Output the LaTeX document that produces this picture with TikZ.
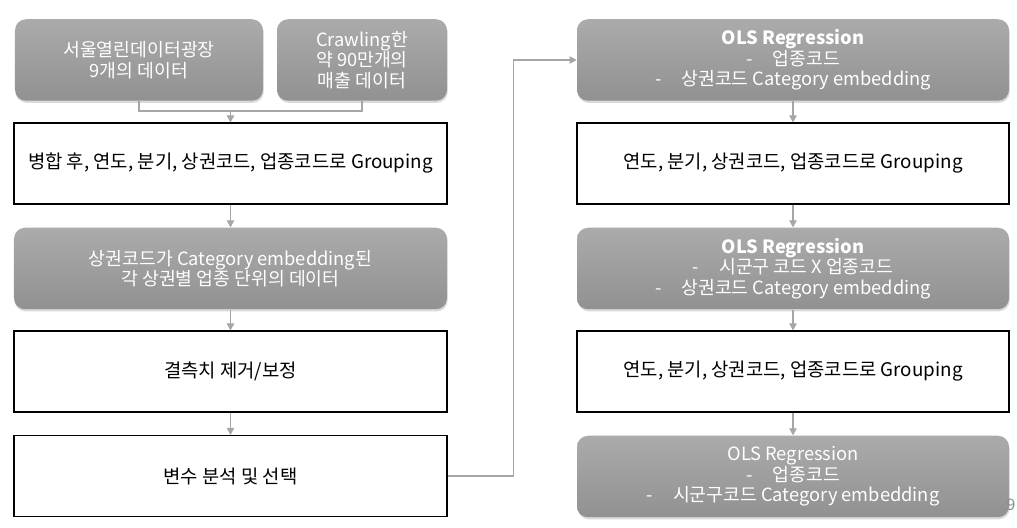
\documentclass[tikz,border=0pt]{standalone}
\usepackage{fontspec}
\setmainfont{Noto Sans CJK KR}
\usetikzlibrary{arrows.meta,shadows}

\definecolor{boxtop}{HTML}{ABABAB}
\definecolor{boxbot}{HTML}{919191}
\definecolor{linegray}{HTML}{A6A6A6}
\definecolor{numgray}{HTML}{8C8C8C}

\begin{document}
\begin{tikzpicture}[
        graybox/.style={rounded corners=0.22cm, top color=boxtop, bottom color=boxbot,
            text=white, align=center, minimum height=1.63cm, inner sep=0pt,
            font=\fontsize{10.4}{11.6}\selectfont,
            drop shadow={opacity=0.3, shadow xshift=0.4pt, shadow yshift=-1.2pt}},
        whitebox/.style={draw=black, line width=0.6pt, fill=white, align=center,
            minimum height=1.62cm, inner sep=0pt, font=\fontsize{10.7}{11.6}\selectfont},
        link/.style={draw=linegray, line width=0.6pt},
        arr/.style={link, -{Triangle[length=4pt,width=4.2pt]}}
    ]

        \useasboundingbox (0,0) rectangle (20.34,10.56);

        % left column
        \node[graybox, minimum width=4.96cm] (A) at (2.78, 9.36) {서울열린데이터광장\\9개의 데이터};
        \node[graybox, minimum width=3.40cm] (B) at (7.24, 9.36) {Crawling한\\약 90만개의\\매출 데이터};
        \node[whitebox, minimum width=8.66cm] (C) at (4.61, 7.29) {병합 후, 연도, 분기, 상권코드, 업종코드로 Grouping};
        \node[graybox, minimum width=8.66cm] (D) at (4.61, 5.19) {상권코드가 Category embedding된\\각 상권별 업종 단위의 데이터};
        \node[whitebox, minimum width=8.66cm] (E) at (4.61, 3.13) {결측치 제거/보정};
        \node[whitebox, minimum width=8.66cm] (F) at (4.61, 1.04) {변수 분석 및 선택};

        % right column
        \node[graybox, minimum width=8.64cm] (G) at (15.86, 9.36) {\textbf{OLS Regression}\\-\hspace{1.1em}업종코드\\-\hspace{1.1em}상권코드 Category embedding};
        \node[whitebox, minimum width=8.64cm] (H) at (15.86, 7.29) {연도, 분기, 상권코드, 업종코드로 Grouping};
        \node[graybox, minimum width=8.64cm] (I) at (15.86, 5.19) {\textbf{OLS Regression}\\-\hspace{1.1em}시군구 코드 X 업종코드\\-\hspace{1.1em}상권코드 Category embedding};
        \node[whitebox, minimum width=8.64cm] (J) at (15.86, 3.13) {연도, 분기, 상권코드, 업종코드로 Grouping};
        \node[graybox, minimum width=8.64cm] (K) at (15.86, 1.03) {OLS Regression\\-\hspace{1.1em}업종코드\\-\hspace{1.1em}시군구코드 Category embedding};

        \node[text=numgray, font=\fontsize{9}{10}\selectfont] (N) at (20.22, 0.46) {9};

        \coordinate (M) at (4.61, 8.34);

        \draw[link] (A.south) |- (M) -| (B.south);
        \draw[arr] (M) -- (C.north);
        \draw[arr] (C) -- (D);
        \draw[arr] (D) -- (E);
        \draw[arr] (E) -- (F);
        \draw[arr] (F.east) -- ++(1.32,0) |- (G.west);
        \draw[arr] (G) -- (H);
        \draw[arr] (H) -- (I);
        \draw[arr] (I) -- (J);
        \draw[arr] (J) -- (K);

    \end{tikzpicture}
\end{document}
